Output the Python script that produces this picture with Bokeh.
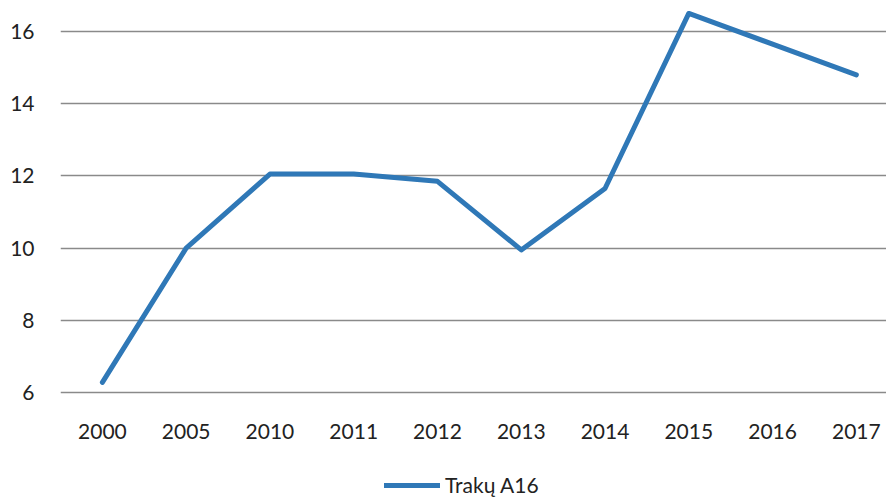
from bokeh.plotting import figure
from bokeh.layouts import column
from bokeh.models import Range1d, FixedTicker, Legend, LegendItem
from bokeh.embed import file_html
from bokeh.resources import INLINE

years = ["2000", "2005", "2010", "2011", "2012", "2013", "2014", "2015", "2016", "2017"]
values = [6.28, 10.0, 12.05, 12.05, 11.85, 9.95, 11.65, 16.5, 15.65, 14.8]
y_ticks = [6, 8, 10, 12, 14, 16]
series_name = "Trakų A16"

LINE_COLOR = "#2f78b7"
FONT = "Lato"

xs = list(range(len(years)))

p = figure(
    width=886, height=446,
    x_range=Range1d(-0.5, 9.36),
    y_range=Range1d(5.89, 16.72),
    output_backend="svg", toolbar_location=None,
    min_border_left=60, min_border_right=0,
    min_border_top=5, min_border_bottom=50,
)
p.outline_line_color = None
p.background_fill_color = "white"
p.border_fill_color = "white"

p.line(xs, values, line_color=LINE_COLOR, line_width=5, line_join="round", line_cap="round")

# grid
p.xgrid.grid_line_color = None
p.ygrid.ticker = FixedTicker(ticks=y_ticks)
p.ygrid.grid_line_color = "#8a8a8a"
p.ygrid.grid_line_width = 1.5

# axes
p.yaxis.ticker = FixedTicker(ticks=y_ticks)
p.xaxis.ticker = FixedTicker(ticks=xs)
p.xaxis.major_label_overrides = {i: y for i, y in enumerate(years)}
for ax in (p.xaxis[0], p.yaxis[0]):
    ax.axis_line_color = None
    ax.major_tick_line_color = None
    ax.minor_tick_line_color = None
    ax.major_label_text_font = FONT
    ax.major_label_text_font_size = "21px"
    ax.major_label_text_color = "#222222"
p.xaxis.major_label_standoff = 21
p.yaxis.major_label_standoff = 20

# legend strip underneath the chart
lg = figure(
    width=886, height=51,
    x_range=Range1d(0, 886), y_range=Range1d(0, 51),
    x_axis_type=None, y_axis_type=None,
    output_backend="svg", toolbar_location=None,
    min_border=0,
)
lg.outline_line_color = None
lg.xgrid.visible = False
lg.ygrid.visible = False
# sample line kept outside the visible range; only its legend glyph shows
sample = lg.line([-20, -10], [-20, -20], line_color=LINE_COLOR, line_width=5, line_cap="round")
legend = Legend(
    items=[LegendItem(label=series_name, renderers=[sample])],
    orientation="horizontal", location=(324, 0),
    label_text_font=FONT, label_text_font_size="21px", label_text_color="#222222",
    border_line_color=None, background_fill_alpha=0,
    glyph_width=56, glyph_height=20, label_height=20,
    label_standoff=5, padding=0, margin=0,
)
lg.add_layout(legend, "center")

layout = column(p, lg, spacing=0)
open("out.html", "w").write(file_html(layout, INLINE))
